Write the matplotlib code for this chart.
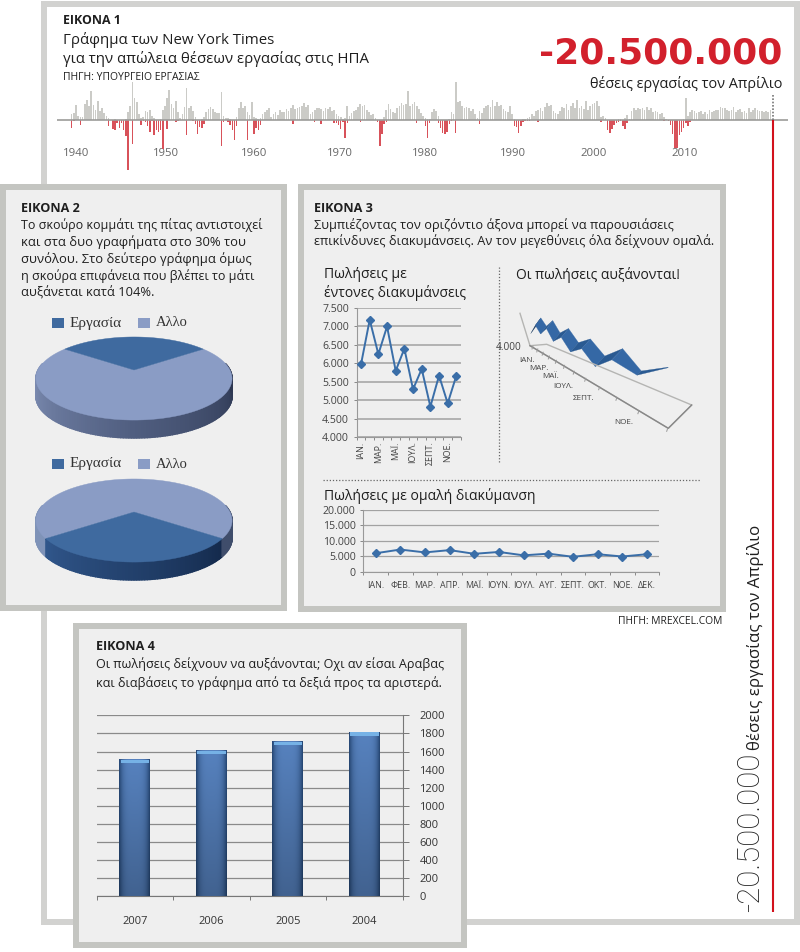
"""Four-panel Greek infographic on misleading charts."""
import matplotlib
matplotlib.use("Agg")
import matplotlib.pyplot as plt
from matplotlib.colors import to_rgb
from matplotlib.patches import Rectangle
import numpy as np

plt.rcParams["font.family"] = ["Open Sans", "DejaVu Sans"]

W, H = 800, 952
FRAME1 = "#d2d2d0"
FRAME = "#c4c5c1"
PANEL = "#efefef"
TEXT = "#1f1f1f"
GREY = "#555555"

# figure 1: jobs gained / lost per quarter from 1939.5, heights
JOBS_GAIN = [
    6, 7, 15, 4, 3, 3, 16, 20, 14, 29, 15, 10, 19, 9, 12, 7, 4, 2, 0, 0, 1, 0,
    0, 0, 0, 1, 8, 14, 38, 22, 18, 6, 2, 3, 9, 8, 10, 4, 2, 0, 0, 1,
    10, 14, 22, 30, 16, 12, 19, 8, 2, 6, 13, 32, 12, 14, 9, 3, 0, 0, 1, 3,
    8, 11, 13, 11, 8, 7, 7, 28, 4, 2, 2, 1, 0, 0, 3, 12, 18, 12, 14, 8,
    5, 18, 3, 2, 1, 2, 6, 8, 10, 12, 3, 6, 8, 5, 10, 8, 8, 11, 9, 12,
    15, 11, 12, 13, 14, 17, 13, 15, 6, 8, 10, 12, 12, 11, 9, 12, 11, 13, 9, 10,
    6, 4, 3, 1, 2, 14, 4, 7, 9, 10, 13, 16, 14, 15, 10, 8, 5, 6, 2, 0,
    0, 0, 3, 10, 16, 11, 8, 7, 12, 14, 17, 15, 16, 29, 14, 16, 18, 14, 11, 7,
    4, 2, 1, 1, 8, 11, 9, 4, 0, 0, 0, 0, 1, 8, 6, 39, 18, 19, 14, 12,
    13, 12, 9, 11, 6, 2, 9, 7, 12, 14, 15, 13, 20, 14, 18, 14, 15, 11, 9, 8,
    14, 6, 1, 0, 0, 0, 1, 1, 2, 3, 6, 4, 9, 10, 12, 9, 13, 17, 14, 15,
    9, 7, 6, 9, 13, 12, 16, 10, 14, 17, 12, 20, 12, 14, 11, 19, 10, 14, 16, 17,
    19, 14, 3, 4, 2, 0, 0, 0, 0, 0, 1, 1, 0, 2, 5, 1, 9, 12, 10, 12,
    11, 12, 10, 13, 10, 12, 8, 9, 8, 6, 7, 3, 1, 0, 0, 0, 0, 0, 0, 0,
    1, 22, 4, 8, 10, 9, 7, 8, 9, 6, 8, 6, 10, 8, 9, 10, 10, 13, 12, 12,
    10, 9, 10, 13, 8, 10, 11, 8, 9, 7, 12, 8, 10, 12, 10, 9, 9, 8, 9, 8,
    10, 0,
]
JOBS_LOSS = [
    8, 1, 0, 0, 5, 0, 0, 0, 0, 0, 0, 0, 0, 0, 0, 0, 0, 6, 0, 9, 10, 3,
    8, 3, 10, 16, 50, 0, 24, 0, 0, 0, 5, 1, 2, 6, 12, 1, 15, 10, 12, 10,
    29, 0, 9, 0, 0, 0, 2, 1, 0, 0, 0, 15, 0, 0, 1, 4, 14, 7, 8, 4,
    0, 0, 0, 0, 0, 0, 0, 26, 2, 0, 2, 5, 10, 20, 6, 0, 0, 0, 0, 20,
    0, 0, 14, 8, 10, 5, 0, 0, 0, 0, 0, 0, 0, 0, 0, 0, 0, 0, 0, 0,
    4, 0, 0, 0, 0, 0, 0, 0, 0, 0, 2, 0, 0, 4, 0, 0, 0, 0, 0, 3,
    3, 5, 9, 2, 18, 3, 0, 0, 0, 0, 0, 2, 0, 0, 0, 0, 0, 0, 0, 2,
    26, 14, 4, 2, 0, 0, 0, 0, 0, 0, 0, 0, 0, 0, 0, 0, 0, 3, 0, 0,
    0, 6, 18, 3, 0, 0, 0, 3, 8, 13, 14, 12, 4, 1, 0, 13, 0, 0, 0, 0,
    0, 0, 0, 0, 0, 0, 4, 0, 0, 0, 0, 0, 0, 0, 0, 0, 0, 0, 0, 0,
    0, 0, 6, 7, 13, 6, 2, 1, 1, 1, 0, 0, 0, 2, 0, 0, 0, 0, 0, 0,
    0, 0, 0, 0, 0, 0, 0, 0, 0, 0, 0, 0, 0, 0, 0, 0, 0, 0, 0, 0,
    0, 0, 2, 0, 0, 10, 13, 9, 5, 3, 2, 1, 6, 9, 3, 0, 0, 0, 0, 0,
    0, 0, 0, 0, 0, 0, 0, 0, 0, 0, 0, 1, 0, 1, 5, 14, 28, 28, 15, 12,
    8, 3, 6, 2, 0, 0, 0, 0, 0, 0, 0, 0, 0, 0, 0, 0, 0, 0, 0, 0,
    0, 0, 0, 0, 0, 0, 0, 0, 0, 0, 0, 0, 0, 0, 0, 0, 0, 0, 0, 0,
    0, 0,
]
JOBS_START = 1939.5
JOBS_STEP = 0.25
YEAR_LABELS = ["1940", "1950", "1960", "1970", "1980", "1990", "2000", "2010"]
YEAR_X = [76, 166, 254, 340, 425, 513, 594, 685]

# figure 2: pie shares
PIE_LABELS = ["Εργασία", "Αλλο"]
PIE_SHARES = [30, 70]

# figure 3: monthly sales
MONTHS = ["ΙΑΝ.", "ΦΕΒ.", "ΜΑΡ.", "ΑΠΡ.", "ΜΑΪ.", "ΙΟΥΝ.", "ΙΟΥΛ.", "ΑΥΓ.", "ΣΕΠΤ.", "ΟΚΤ.", "ΝΟΕ.", "ΔΕΚ."]
SALES = [5980, 7180, 6250, 7000, 5800, 6400, 5300, 5850, 4830, 5670, 4920, 5670]
TICKS_TALL = [4000, 4500, 5000, 5500, 6000, 6500, 7000, 7500]
TICKS_FLAT = [0, 5000, 10000, 15000, 20000]

# figure 4: yearly sales, newest on the right axis side
YEARS = ["2007", "2006", "2005", "2004"]
YEAR_SALES = [1510, 1610, 1710, 1810]
TICKS_BARS = list(range(0, 2001, 200))

fig = plt.figure(figsize=(W / 100, H / 100), dpi=100, facecolor="white")
page = fig.add_axes([0, 0, 1, 1])
page.set_xlim(0, W)
page.set_ylim(H, 0)
page.axis("off")
renderer = fig.canvas.get_renderer()


def chart_axes(x0, y0, x1, y1):
    ax = fig.add_axes([x0 / W, 1 - y1 / H, (x1 - x0) / W, (y1 - y0) / H])
    ax.patch.set_alpha(0)
    return ax


def put(x, y, s, w=None, size=10, rotation=0, **kw):
    kw.setdefault("color", TEXT)
    kw.setdefault("va", "center")
    t = page.text(x, y, s, fontsize=size, **kw)
    if w:
        t.set_fontsize(size * w / t.get_window_extent(renderer).width)
    t.set_rotation(rotation)
    return t


def frame(x0, y0, x1, y1, border, fill, t=6):
    page.add_patch(Rectangle((x0, y0), x1 - x0, y1 - y0, fc=border, ec="none"))
    page.add_patch(Rectangle((x0 + t, y0 + t), x1 - x0 - 2 * t, y1 - y0 - 2 * t, fc=fill, ec="none"))


def thousands(v):
    return f"{v:,}".replace(",", ".")


# ── frames ──────────────────────────────────────────────────────────────────
frame(41, 1, 800, 925, FRAME1, "white", t=6)
frame(0, 184, 287, 611, FRAME, PANEL)
frame(298, 184, 726, 612, FRAME, PANEL)
frame(73, 623, 467, 948, FRAME, PANEL)

# ── ΕΙΚΟΝΑ 1 ───────────────────────────────────────────────────────────────
put(63, 20, "ΕΙΚΟΝΑ 1", w=58, fontweight="bold")
put(63, 40, "Γράφημα των New York Times", w=211)
put(63, 59, "για την απώλεια θέσεων εργασίας στις ΗΠΑ", w=306)
put(63, 78, "ΠΗΓΗ: ΥΠΟΥΡΓΕΙΟ ΕΡΓΑΣΙΑΣ", w=138)
put(782, 54, "-20.500.000", w=243, ha="right", color="#d2202c", fontweight="bold",
    family=["DejaVu Sans"])
put(782, 84, "θέσεις εργασίας τον Απρίλιο", w=193, ha="right")

px_per_year = 8.68
ax = chart_axes(57, 82, 788, 912)
ax.set_xlim(1940 - 19 / px_per_year, 1940 + 712 / px_per_year)
ax.set_ylim(-792, 38)
ax.axis("off")
quarters = JOBS_START + JOBS_STEP * np.arange(len(JOBS_GAIN))
ax.bar(quarters, JOBS_GAIN, width=0.19, color="#cbcbc7", linewidth=0)
ax.bar(quarters, -np.array(JOBS_LOSS), width=0.17, color="#d8525a", linewidth=0)
ax.axhline(0, color="#9c9c9a", linewidth=1.2)
ax.vlines(quarters[-1], 0, 25, color="#777777", linewidth=1.2, linestyle=(0, (1, 1)))
ax.vlines(quarters[-1], -792, 0, color="#d2111c", linewidth=1.5)
for label, x in zip(YEAR_LABELS, YEAR_X):
    put(x, 154, label, w=26, ha="center", color="#666666")

put(751, 912, "-20.500.000", w=160, ha="center", va="bottom", rotation=90,
    family=["Roboto", "DejaVu Sans"], fontweight="light")
put(756, 750, "θέσεις εργασίας τον Απρίλιο", w=224, ha="center", va="bottom", rotation=90)

# ── ΕΙΚΟΝΑ 2 ───────────────────────────────────────────────────────────────
put(21, 208, "ΕΙΚΟΝΑ 2", w=59, fontweight="bold")
put(21, 225, "Το σκούρο κομμάτι της πίτας αντιστοιχεί", w=241)
put(21, 242, "και στα δυο γραφήματα στο 30% του", w=224)
put(21, 259, "συνόλου. Στο δεύτερο γράφημα όμως", w=230)
put(21, 276, "η σκούρα επιφάνεια που βλέπει το μάτι", w=233)
put(21, 293, "αυξάνεται κατά 104%.", w=133)


def disc(theta, cx, cy):
    # circle seen in perspective: the far edge shrinks, the near edge grows
    x, y = np.cos(theta), np.sin(theta)
    k = 1 + 0.205 * y
    return cx + 96 * x / k, cy - 39.8 * y / k


def slice_poly(a0, a1, cx, cy):
    th = np.radians(np.linspace(a0, a1, 80))
    xs, ys = disc(th, cx, cy)
    return np.r_[cx, xs], np.r_[cy, ys]


def draw_pie(cx, cy, centre_angle, side_colour):
    sweep = 360 * PIE_SHARES[0] / sum(PIE_SHARES)
    a0, a1 = centre_angle - sweep / 2, centre_angle + sweep / 2
    edges = np.linspace(170, 370, 161)
    for e0, e1 in zip(edges[:-1], edges[1:]):
        x0, y0 = disc(np.radians(e0), cx, cy)
        x1, y1 = disc(np.radians(e1), cx, cy)
        c = side_colour((e0 + e1) / 2, a0, a1)
        page.fill([x0, x1, x1, x0], [y0, y1, y1 + 18, y0 + 18], color=c, linewidth=1.0)
    page.fill(*slice_poly(a1, a0 + 360, cx, cy), color="#8a9cc5", linewidth=0.3)
    page.fill(*slice_poly(a0, a1, cx, cy), color="#3f6a9f", linewidth=0.3)


def mix(a, b, t):
    t = min(max(t, 0), 1)
    return tuple((1 - t) * p + t * q for p, q in zip(to_rgb(a), to_rgb(b)))


def side_top(ang, a0, a1):
    t = (ang - 180) / 180
    return mix("#8494ba", "#505e80", t * 2) if t < 0.5 else mix("#505e80", "#2c3650", t * 2 - 1)


def side_front(ang, a0, a1):
    if ang < a0:
        return "#7f93b8"
    if ang > a1:
        return "#3f4d6b"
    return mix("#31578c", "#142a4c", (ang - a0) / (a1 - a0))


draw_pie(134, 370, 90, side_top)
draw_pie(134, 512, 270, side_front)

for ly in (323, 464):
    page.add_patch(Rectangle((52, ly - 5), 12, 10, fc="#3f6a9f", ec="none"))
    page.add_patch(Rectangle((138, ly - 5), 12, 10, fc="#8a9cc5", ec="none"))
    put(70, ly, PIE_LABELS[0], w=52, family=["Liberation Serif"], color="#333333")
    put(156, ly, PIE_LABELS[1], w=32, family=["Liberation Serif"], color="#333333")

# ── ΕΙΚΟΝΑ 3 ───────────────────────────────────────────────────────────────
put(314, 208, "ΕΙΚΟΝΑ 3", w=59, fontweight="bold")
put(314, 225, "Συμπιέζοντας τον οριζόντιο άξονα μπορεί να παρουσιάσεις", w=357)
put(314, 241, "επικίνδυνες διακυμάνσεις. Αν τον μεγεθύνεις όλα δείχνουν ομαλά.", w=397)
put(324, 275, "Πωλήσεις με", w=83)
put(324, 293, "έντονες διακυμάνσεις", w=142)
put(516, 275, "Οι πωλήσεις αυξάνονται!", w=164)
put(324, 496, "Πωλήσεις με ομαλή διακύμανση", w=211)
put(618, 622, "ΠΗΓΗ: MREXCEL.COM", w=104)
page.plot([499, 499], [267, 463], color="#666666", linewidth=0.9, linestyle=(0, (1, 1.5)))
page.plot([323, 701], [480, 480], color="#666666", linewidth=0.9, linestyle=(0, (1, 1.5)))


def sales_line(ax, ticks, grid_lw, marker_size):
    ax.plot(range(12), SALES, color="#3a6ea8", linewidth=1.4, marker="D",
            markersize=marker_size, zorder=4, clip_on=False)
    ax.set_xlim(-0.5, 11.5)
    ax.set_ylim(ticks[0], ticks[-1])
    ax.set_yticks(ticks)
    ax.set_yticklabels([thousands(v) for v in ticks], fontsize=7.6, color="#444444")
    ax.grid(axis="y", color="#a2a2a2", linewidth=grid_lw)
    ax.set_axisbelow(True)
    ax.set_xticks(np.arange(-0.5, 12), minor=True)
    ax.tick_params(axis="x", which="minor", length=2.5, width=0.7, color="#888888")
    ax.tick_params(axis="x", which="major", length=0)
    ax.tick_params(axis="y", length=2.5, width=0.7, color="#888888", pad=3)
    for side in ("top", "right"):
        ax.spines[side].set_visible(False)
    for side in ("left", "bottom"):
        ax.spines[side].set_color("#999999")
        ax.spines[side].set_linewidth(0.8)


ax = chart_axes(356.7, 308, 460.7, 437.3)
sales_line(ax, TICKS_TALL, 1.1, 4)
ax.set_xticks(range(0, 12, 2))
ax.set_xticklabels(MONTHS[0::2], rotation=90, fontsize=6.4, color="#444444")
ax.tick_params(axis="x", which="major", pad=3)

ax = chart_axes(363.3, 510, 659.3, 571.7)
sales_line(ax, TICKS_FLAT, 0.9, 4)
ax.set_xticks(range(12))
ax.set_xticklabels(MONTHS, fontsize=6.4, color="#444444")
ax.tick_params(axis="x", which="major", pad=7)

# stretched 3D version of the same sales figures
months = np.arange(12)
depth = 1 / (1 - 0.0575 * months)
rib_x = 533.3 + 4.5 * months * depth
rib_y = 344.7 + 0.42 * (rib_x - 533.3) - 0.00743 * depth * (np.array(SALES) - 4000)
page.plot([520, 530, 546.7, 691.7, 668.3, 530], [313.3, 345.7, 344.3, 405, 428.3, 345.7],
          color="#b5b5b3", linewidth=1.0)
page.plot([530, 668.3, 691.7], [345.7, 428.3, 405], color="#888888", linewidth=1.0)
for m in months:
    t = (rib_x[m] - 533.3) / (668.3 - 533.3)
    tx, ty = 533 + t * 135, 346 + t * 82.5
    page.plot([tx, tx - 1], [ty, ty + 3], color="#999999", linewidth=0.7)
taper = np.r_[np.ones(10), 0.35, 0.05]
off_x = -2.6 * depth * taper
off_y = 3.6 * depth ** 0.6 * taper
for i in range(11):
    shade = "#3568a5" if rib_y[i + 1] > rib_y[i] else "#2a5a92"
    if i == 0:
        shade = "#16365c"
    page.fill([rib_x[i] - off_x[i], rib_x[i + 1] - off_x[i + 1], rib_x[i + 1] + off_x[i + 1], rib_x[i] + off_x[i]],
              [rib_y[i] - off_y[i], rib_y[i + 1] - off_y[i + 1], rib_y[i + 1] + off_y[i + 1], rib_y[i] + off_y[i]],
              color=shade, linewidth=0.2)
put(522, 347, "4.000", w=26, ha="right", color="#444444")
for label, x, y in [("ΙΑΝ.", 527, 360), ("ΜΑΡ.", 539, 368), ("ΜΑΪ.", 551, 376),
                    ("ΙΟΥΛ.", 563, 386), ("ΣΕΠΤ.", 584, 399), ("ΝΟΕ.", 624, 423)]:
    put(x, y, label, size=5.9, ha="center", color="#444444")

# ── ΕΙΚΟΝΑ 4 ───────────────────────────────────────────────────────────────
put(96, 647, "ΕΙΚΟΝΑ 4", w=59, fontweight="bold")
put(96, 664, "Οι πωλήσεις δείχνουν να αυξάνονται; Οχι αν είσαι Αραβας", w=347)
put(96, 683, "και διαβάσεις το γράφημα από τα δεξιά προς τα αριστερά.", w=346)

ax = chart_axes(96.7, 715.3, 402.7, 896.3)
bars = ax.bar(range(4), YEAR_SALES, width=0.405, color="#4d74aa", zorder=3)
u = np.abs(np.linspace(-1, 1, 40)) ** 4
shade = np.linspace(1.08, 0.82, 60)[:, None, None]
base = np.array(to_rgb("#5078b0")) * (1 - u[:, None]) + np.array(to_rgb("#24436d")) * u[:, None]
grad = np.clip(base[None, :, :] * shade, 0, 1)
for b in bars:
    ax.imshow(grad, extent=(b.get_x(), b.get_x() + b.get_width(), 0, b.get_height()),
              aspect="auto", zorder=4)
    ax.bar(b.get_x() + b.get_width() / 2, 42, bottom=b.get_height() - 42, width=0.37,
           color="#76b2e6", linewidth=0, zorder=5)
ax.set_xlim(-0.5, 3.5)
ax.set_ylim(0, 2000)
ax.yaxis.tick_right()
ax.set_yticks(TICKS_BARS)
ax.set_yticklabels(TICKS_BARS, fontsize=8, color="#333333")
ax.set_xticks(range(4))
ax.set_xticklabels(YEARS, fontsize=8, color="#333333")
ax.set_xticks(np.arange(-0.5, 4), minor=True)
ax.tick_params(axis="x", which="major", length=0, pad=14)
ax.tick_params(axis="x", which="minor", length=3, width=0.7, color="#777777")
ax.tick_params(axis="y", length=4, width=0.7, color="#777777", pad=8)
ax.grid(axis="y", color="#8a8a8a", linewidth=0.9)
ax.set_axisbelow(True)
for side in ("top", "left"):
    ax.spines[side].set_visible(False)
for side in ("right", "bottom"):
    ax.spines[side].set_color("#777777")
    ax.spines[side].set_linewidth(0.8)

fig.savefig("out.png", dpi=100)
